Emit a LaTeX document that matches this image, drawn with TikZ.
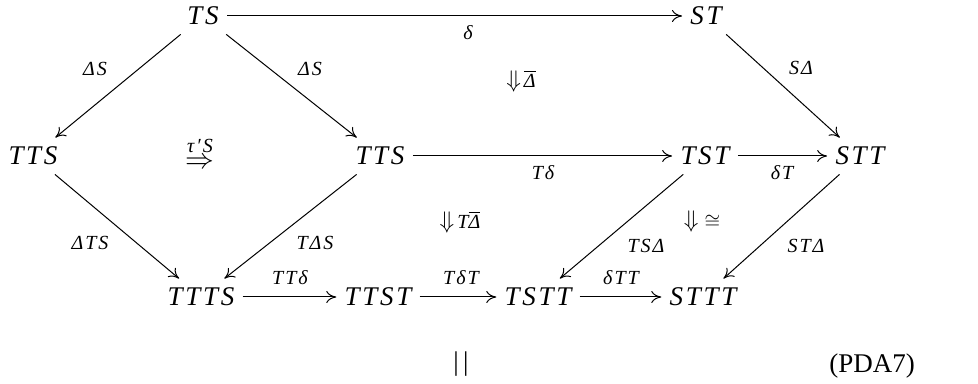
\documentclass[tikz,border=0pt]{standalone}
\usepackage{fontspec}
\setmainfont{Liberation Serif}
\newfontfamily\mitfam[LetterSpace=10]{Liberation Serif}
\newcommand\fm[1]{{\mitfam\itshape #1}}
\newcommand\dar{{\fontsize{12.5}{14}\selectfont$\Downarrow$}}
\usetikzlibrary{arrows.meta}
\tikzset{
  obj/.style={inner xsep=4pt, inner ysep=4.5pt, text height=9pt, text depth=0pt,
    font=\fontsize{13.5}{16}\selectfont\mitfam\itshape},
  lbl/.style={inner sep=0pt, font=\fontsize{10}{12}\selectfont\mitfam\itshape},
  ar/.style={-{To[length=5pt,width=6pt]}, line width=0.5pt},
}
\begin{document}
\begin{tikzpicture}[x=0.5pt,y=-0.5pt]
\useasboundingbox (0,0) rectangle (978,384);
% objects
\node[obj] (TS)   at (203,16)  {TS};
\node[obj] (ST)   at (706,16)  {ST};
\node[obj] (TTSl) at (33,156)  {TTS};
\node[obj] (TTSm) at (380,156) {TTS};
\node[obj] (TST)  at (705,156) {TST};
\node[obj] (STT)  at (860,156) {STT};
\node[obj] (TTTS) at (201,297) {TTTS};
\node[obj] (TTST) at (378,297) {TTST};
\node[obj] (TSTT) at (538,297) {TSTT};
\node[obj] (STTT) at (703,297) {STTT};
% arrows
\draw[ar] (TS) -- (ST);
\draw[ar] (TS) -- (TTSl);
\draw[ar] (TS) -- (TTSm);
\draw[ar] (ST) -- (STT);
\draw[ar] (TTSm) -- (TST);
\draw[ar] (TST) -- (STT);
\draw[ar] (TTSl) -- (TTTS);
\draw[ar] (TTSm) -- (TTTS);
\draw[ar] (TST) -- (TSTT);
\draw[ar] (STT) -- (STTT);
\draw[ar] (TTTS) -- (TTST);
\draw[ar] (TTST) -- (TSTT);
\draw[ar] (TSTT) -- (STTT);
% labels
\node[lbl] (l1)  at (468,33)  {δ};
\node[lbl] (l2)  at (95,69)   {ΔS};
\node[lbl] (l3)  at (310,69)  {ΔS};
\node[lbl] (l4)  at (801,68)  {SΔ};
\node[lbl] (l5)  at (543,173) {Tδ};
\node[lbl] (l6)  at (782,173) {δT};
\node[lbl] (l7)  at (90,243)  {ΔTS};
\node[lbl] (l8)  at (315,243) {TΔS};
\node[lbl] (l9)  at (646,246) {TSΔ};
\node[lbl] (l10) at (806,246) {STΔ};
\node[lbl] (l11) at (290,278) {TTδ};
\node[lbl] (l12) at (461,278) {TδT};
\node[lbl] (l13) at (621,278) {δTT};
% 2-cells
\node[lbl] (c1) at (521,81)  {\dar\kern1.5pt$\overline{\hbox{\fm{Δ}}}$};
\node[lbl] (c2) at (460,222) {\dar\kern1.5pt\fm{T}$\overline{\hbox{\fm{Δ}}}$};
\node[lbl] (c3) at (702,222) {\dar\kern3pt$\cong$};
\node[lbl, align=center] (c4) at (200,154) {τ′S\\[-4pt]{\fontsize{13.5}{16}\selectfont$\Rightarrow$}};
% bottom
\node[inner sep=0pt, font=\fontsize{13.5}{16}\selectfont] (eq) at (461,364) {|\,|};
\node[inner sep=0pt, font=\fontsize{13.5}{16}\selectfont] (tag) at (872,366) {(PDA7)};
\end{tikzpicture}
\end{document}
